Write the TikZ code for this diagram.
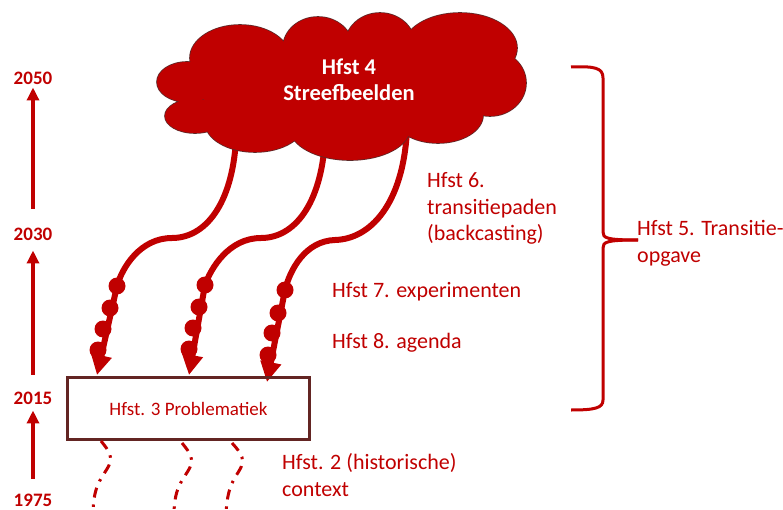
\documentclass[tikz,border=0pt]{standalone}
\usepackage{fontspec}
\setmainfont{Carlito}
\usetikzlibrary{arrows.meta}
\definecolor{hfstred}{RGB}{192,0,0}
\definecolor{boxbrown}{RGB}{99,37,35}
\definecolor{cloudedge}{RGB}{95,40,40}
\tikzset{
  year/.style={text=hfstred,font=\fontsize{19}{23}\selectfont\bfseries,inner sep=0pt},
  timearrow/.style={draw=hfstred,line width=4pt,-{Triangle[width=12pt,length=13pt]}},
  hfsttext/.style={text=hfstred,font=\fontsize{22}{26.5}\selectfont,align=left,inner sep=0pt,anchor=base west},
  beadpath/.style={draw=hfstred,line width=6pt,-{Triangle[width=20pt,length=20pt]}},
  bead/.style={fill=hfstred},
  history/.style={draw=hfstred,line width=3pt,dash pattern=on 10pt off 7pt on 2.5pt off 7pt},
  wolk/.style={fill=hfstred,preaction={draw=cloudedge,line width=1.6pt}}
}

\begin{document}
\begin{tikzpicture}[x=1pt,y=-1pt]
  \useasboundingbox (0,0) rectangle (783,510);
  \clip (0,0) rectangle (783,510);

  % time axis
  \node[year] (y2050) at (33,78) {2050};
  \node[year] (y2030) at (33,234) {2030};
  \node[year] (y2015) at (33,398) {2015};
  \node[year] (y1975) at (33,500) {1975};
  \draw[timearrow,shorten <=19pt,shorten >=3pt] (y2030) -- (y2050);
  \draw[timearrow,shorten <=17pt,shorten >=10pt] (y2015) -- (y2030);
  \draw[timearrow,shorten <=15pt,shorten >=6pt] (y1975) -- (y2015);

  \coordinate (s1) at (236,140);
  \coordinate (s2) at (325,140);
  \coordinate (s3) at (407,130);
  \coordinate (e1) at (97,375);
  \coordinate (e2) at (189,375);
  \coordinate (e3) at (267,382);

  % transitiepaden
  \draw[beadpath] (s1) .. controls (232,205) and (205,238) .. (172,238)
     .. controls (140,238) and (122,268) .. (117,286) -- (e1);
  \draw[beadpath] (s2) .. controls (321,205) and (294,238) .. (261,238)
     .. controls (229,238) and (211,268) .. (205,285) -- (e2);
  \draw[beadpath] (s3) .. controls (403,205) and (370,239) .. (335,240)
     .. controls (305,241) and (290,270) .. (285,290) -- (e3);
  \fill[bead] (117,286) circle (8.5) (110,308) circle (8.5) (103,329) circle (8.5) (98,350) circle (8.5);
  \fill[bead] (205,285) circle (8.5) (199,307) circle (8.5) (193,328) circle (8.5) (189,349) circle (8.5);
  \fill[bead] (285,290) circle (8.5) (278,313) circle (8.5) (272,333) circle (8.5) (268,355) circle (8.5);

  % wolk
  \path[wolk] (187,82) ellipse (30 and 20) (195,116) ellipse (30 and 17)
        (255,122) ellipse (50 and 30) (350,128) ellipse (60 and 32)
        (438,115) ellipse (45 and 28) (490,83) ellipse (36 and 33)
        (460,48) ellipse (57 and 35) (380,45) ellipse (35 and 32)
        (318,48) ellipse (35 and 31) (240,58) ellipse (50 and 33)
        (341,90) ellipse (140 and 45);
  \node[text=white,font=\fontsize{22.5}{26}\selectfont\bfseries,align=center] (title) at (349,80)
    {Hfst 4\\Streefbeelden};

  \node[draw=boxbrown,line width=2.5pt,minimum width=242pt,minimum height=62pt,
        text=hfstred,font=\fontsize{19}{23}\selectfont] (prob) at (188.5,408.5) {Hfst. 3 Problematiek};

  % historische context
  \coordinate (d1) at (101,441);
  \coordinate (d2) at (182,443);
  \coordinate (d3) at (232,443);
  \draw[history] (d1) .. controls (110,452) and (114,458) .. (107,469)
     .. controls (100,480) and (93,488) .. (93,515);
  \draw[history] (d2) .. controls (191,454) and (195,460) .. (188,471)
     .. controls (181,482) and (174,490) .. (174,515);
  \draw[history] (d3) .. controls (242,454) and (246,460) .. (239,471)
     .. controls (232,482) and (227,490) .. (226,515);

  \node[hfsttext] (h6) at (427,241) {Hfst 6.\\transitiepaden\\(backcasting)};
  \node[hfsttext] (h7) at (332,297) {Hfst 7. experimenten};
  \node[hfsttext] (h8) at (332,348) {Hfst 8. agenda};
  \node[hfsttext] (h2) at (282,496) {Hfst. 2 (historische)\\context};
  \node[hfsttext] (h5) at (637,262) {Hfst 5. Transitie-\\opgave};

  % accolade
  \draw[hfstred,line width=3pt] (571,67) .. controls (595,66) and (603,68) .. (603,78) -- (603,232)
     .. controls (603,238) and (606,240) .. (638,240);
  \draw[hfstred,line width=3pt] (638,240) .. controls (606,240) and (603,242) .. (603,248) -- (603,400)
     .. controls (603,408) and (595,410) .. (571,410);
\end{tikzpicture}
\end{document}
